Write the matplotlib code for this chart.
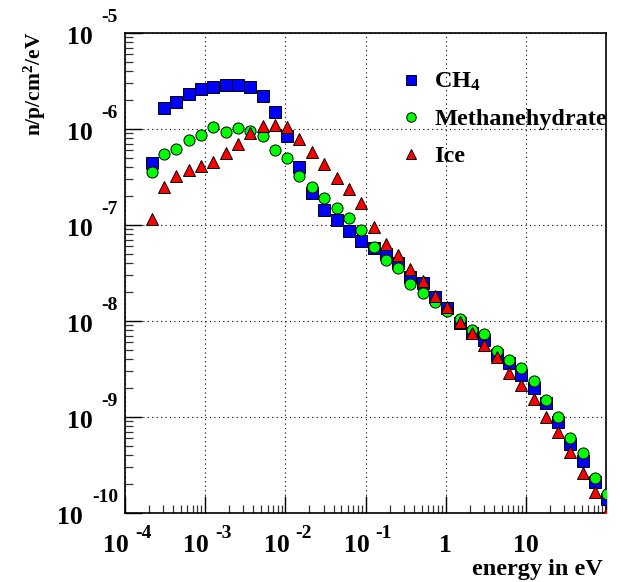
import matplotlib
matplotlib.use("Agg")
import matplotlib.pyplot as plt
import matplotlib.transforms as mtransforms
from matplotlib.ticker import LogLocator, NullFormatter

# ---------------- data ----------------
energy = [2.16e-4, 3.08e-4, 4.38e-4, 6.23e-4, 8.87e-4, 1.26e-3, 1.80e-3, 2.56e-3,
          3.65e-3, 5.20e-3, 7.41e-3, 1.06e-2, 1.50e-2, 2.14e-2, 3.05e-2, 4.35e-2,
          6.19e-2, 8.81e-2, 0.126, 0.179, 0.255, 0.363, 0.516, 0.736, 1.05, 1.49,
          2.13, 3.03, 4.32, 6.14, 8.75, 12.5, 17.7, 25.3, 36.0, 51.3, 73.1, 104.0]

ch4 = [4.46e-7, 1.66e-6, 1.92e-6, 2.30e-6, 2.59e-6, 2.76e-6, 2.87e-6, 2.87e-6,
       2.72e-6, 2.21e-6, 1.51e-6, 8.36e-7, 4.02e-7, 2.18e-7, 1.45e-7, 1.13e-7,
       8.65e-8, 6.76e-8, 5.71e-8, 4.99e-8, 3.99e-8, 2.89e-8, 2.47e-8, 1.79e-8,
       1.38e-8, 9.46e-9, 7.45e-9, 6.34e-9, 4.43e-9, 3.62e-9, 2.74e-9, 2.00e-9,
       1.39e-9, 8.87e-10, 5.24e-10, 3.52e-10, 2.12e-10, 1.40e-10]

methanehydrate = [3.59e-7, 5.50e-7, 6.24e-7, 7.74e-7, 8.59e-7, 1.04e-6, 9.31e-7, 1.03e-6,
                  9.59e-7, 8.39e-7, 6.04e-7, 4.99e-7, 3.25e-7, 2.51e-7, 1.91e-7, 1.51e-7,
                  1.17e-7, 8.77e-8, 5.94e-8, 4.32e-8, 3.59e-8, 2.41e-8, 1.97e-8, 1.57e-8,
                  1.27e-8, 1.04e-8, 8.05e-9, 7.26e-9, 4.86e-9, 3.93e-9, 3.21e-9, 2.36e-9,
                  1.49e-9, 1.01e-9, 6.00e-10, 4.19e-10, 2.30e-10, 1.58e-10]

ice = [1.15e-7, 2.47e-7, 3.24e-7, 3.74e-7, 4.12e-7, 4.56e-7, 5.58e-7, 6.98e-7,
       9.14e-7, 1.07e-6, 1.10e-6, 1.04e-6, 7.91e-7, 5.81e-7, 4.29e-7, 3.11e-7,
       2.37e-7, 1.68e-7, 9.46e-8, 6.30e-8, 4.86e-8, 3.48e-8, 2.63e-8, 1.82e-8,
       1.39e-8, 9.77e-9, 7.45e-9, 5.62e-9, 4.19e-9, 2.89e-9, 2.15e-9, 1.53e-9,
       1.00e-9, 7.03e-10, 4.36e-10, 2.63e-10, 1.67e-10, 1.02e-10]

series_labels = ["CH$_{4}$", "Methanehydrate", "Ice"]
x_decades = [1e-4, 1e-3, 1e-2, 1e-1, 1, 10]
x_exps = ["-4", "-3", "-2", "-1", None, None]
x_plain = [None, None, None, None, "1", "10"]
y_decades = [1e-5, 1e-6, 1e-7, 1e-8, 1e-9, 1e-10]
y_exps = ["-5", "-6", "-7", "-8", "-9", "-10"]
xlabel = "energy in eV"
ylabel = "n/p/cm$^{2}$/eV"

# ---------------- style ----------------
FONT = "Liberation Serif"
plt.rcParams["font.family"] = [FONT, "DejaVu Serif"]
plt.rcParams["font.weight"] = "bold"
plt.rcParams["mathtext.fontset"] = "custom"
plt.rcParams["mathtext.rm"] = FONT + ":bold"
plt.rcParams["mathtext.it"] = FONT + ":bold"
plt.rcParams["mathtext.bf"] = FONT + ":bold"

W, H = 621, 582
fig = plt.figure(figsize=(W / 100, H / 100), dpi=100)
L, R, T, B = 125, 606, 33, 513
ax = fig.add_axes([L / W, 1 - B / H, (R - L) / W, (B - T) / H])

ax.set_xscale("log")
ax.set_yscale("log")
ax.set_xlim(1e-4, 100)
ax.set_ylim(1e-10, 1e-5)

ms = 8
ax.plot(energy, ch4, ls="none", marker="s", ms=ms, mfc="#0000ff", mec="black",
        mew=0.7, label=series_labels[0], zorder=3)
ax.plot(energy, methanehydrate, ls="none", marker="o", ms=ms, mfc="#00ff00", mec="black",
        mew=0.7, label=series_labels[1], zorder=4)
ax.plot(energy, ice, ls="none", marker="^", ms=8.5, mfc="#ff0000", mec="black",
        mew=0.7, label=series_labels[2], zorder=5)

# grid
ax.grid(True, which="major", color="black", ls=(0, (1, 3)), lw=0.8)
ax.set_axisbelow(True)

# ticks
ax.xaxis.set_major_locator(LogLocator(base=10, numticks=20))
ax.yaxis.set_major_locator(LogLocator(base=10, numticks=20))
ax.xaxis.set_minor_locator(LogLocator(base=10, subs=range(2, 10), numticks=20))
ax.yaxis.set_minor_locator(LogLocator(base=10, subs=range(2, 10), numticks=20))
ax.xaxis.set_major_formatter(NullFormatter())
ax.yaxis.set_major_formatter(NullFormatter())
ax.xaxis.set_minor_formatter(NullFormatter())
ax.yaxis.set_minor_formatter(NullFormatter())
ax.tick_params(which="both", direction="in", top=False, right=False)
ax.tick_params(which="major", length=12, width=1.0)
ax.tick_params(which="minor", length=6, width=0.9, color="#333333")
for s in ax.spines.values():
    s.set_linewidth(1.2)

FS = 18.5
FS_EXP = 14

def px(dx, dy):
    return mtransforms.ScaledTranslation(dx / 100, dy / 100, fig.dpi_scale_trans)

# x tick labels
xb = ax.get_xaxis_transform()
for d, e, p in zip(x_decades, x_exps, x_plain):
    if e is not None:
        ax.text(d, 0, "10", transform=xb + px(4, -32), ha="right", va="center",
                fontsize=FS, fontweight="bold", clip_on=False)
        ax.text(d, 0, e, transform=xb + px(10, -20), ha="left", va="center",
                fontsize=FS_EXP, fontweight="bold", clip_on=False)
    else:
        ax.text(d, 0, p, transform=xb + px(0, -32), ha="center", va="center",
                fontsize=FS, fontweight="bold", clip_on=False)

# y tick labels
yb = ax.get_yaxis_transform()
for d, e in zip(y_decades, y_exps):
    et = ax.text(0, d, e, transform=yb + px(-7, 15), ha="right", va="center",
                 fontsize=FS_EXP, fontweight="bold", clip_on=False)
    ax.annotate("10", xy=(0, 0.5), xycoords=et, xytext=(-9, -19),
                textcoords="offset pixels", ha="right", va="center",
                fontsize=FS, fontweight="bold", annotation_clip=False)

# axis titles
fig.text(603 / W, 1 - 570 / H, xlabel, ha="right", va="center",
         fontsize=17.5, fontweight="bold")
fig.text(35 / W, 1 - 32 / H, ylabel, ha="center", va="top", rotation=90,
         fontsize=15.5, fontweight="bold")

# legend
leg = ax.legend(loc="upper left", bbox_to_anchor=(399 / W, 1 - 71 / H),
                bbox_transform=fig.transFigure, frameon=False, fontsize=17.5,
                markerscale=0.85, handlelength=1.0, handletextpad=0.45,
                labelspacing=0.62, borderpad=0.0, borderaxespad=0.0)
for t in leg.get_texts():
    t.set_fontweight("bold")

fig.savefig("out.png", dpi=100)
